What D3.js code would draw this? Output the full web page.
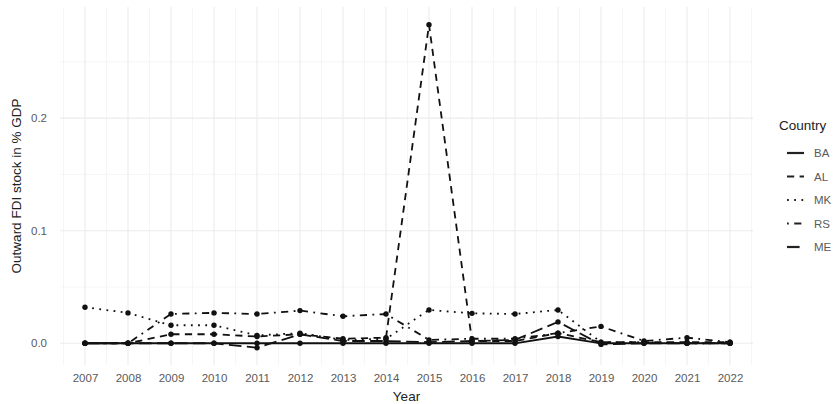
<!DOCTYPE html>
<html>
<head>
<meta charset="utf-8">
<script src="https://cdn.jsdelivr.net/npm/d3@7"></script>
<style>
  body { margin: 0; background: #fff; }
  svg { font-family: "Liberation Sans", Arial, sans-serif; }
</style>
</head>
<body>
<div id="chart"></div>
<script>
// data
const years = d3.range(2007, 2023);
const countries = ["BA", "AL", "MK", "RS", "ME"];
const BA = [0, 0, 0, 0, 0, 0, 0, 0, 0, 0, 0, 0.006, 0, 0, 0, 0];
const AL = [0, 0, 0.008, 0.008, 0.006, 0.008, 0.004, 0.005, 0.283, 0.002, 0.002, 0.009, 0.001, 0.001, 0.001, 0.001];
const MK = [0.032, 0.027, 0.016, 0.016, 0.007, 0.009, 0.003, 0.004, 0.0296, 0.0266, 0.026, 0.0296, 0.001, 0.001, 0, 0];
const RS = [0, 0, 0.026, 0.027, 0.026, 0.029, 0.024, 0.026, 0.003, 0.004, 0.004, 0.009, 0.015, 0.002, 0.005, 0.001];
const ME = [0, 0, 0, 0, -0.004, 0.008, 0.002, 0.002, 0.001, 0.002, 0.003, 0.019, -0.001, 0, 0, 0];
const yTicks = [0, 0.1, 0.2];

const seriesValues = { BA, AL, MK, RS, ME };

const W = 839, H = 404;
const panel = { left: 60, right: 753, top: 7, bottom: 365 };
const lw = 1.8;
const dashes = {
  BA: null,
  AL: `${4 * lw},${3 * lw}`,
  MK: `${1 * lw},${3 * lw}`,
  RS: `${1 * lw},${3 * lw},${4 * lw},${3 * lw}`,
  ME: `${7 * lw},${3 * lw}`
};

const svg = d3.select("#chart").append("svg")
  .attr("width", W).attr("height", H);

// scales
const x = d3.scaleLinear().domain([2007, 2022]).range([85, 730]);
const y = d3.scaleLinear()
  .domain([-0.0193, 0.2987])
  .range([panel.bottom, panel.top]);

const grid = svg.append("g");
// minor grid
d3.range(2006.5, 2023, 1).forEach(v => {
  if (x(v) >= panel.left && x(v) <= panel.right)
    grid.append("line").attr("x1", x(v)).attr("x2", x(v))
      .attr("y1", panel.top).attr("y2", panel.bottom)
      .attr("stroke", "#f3f3f3").attr("stroke-width", 0.8);
});
[0.05, 0.15, 0.25].forEach(v => {
  grid.append("line").attr("x1", panel.left).attr("x2", panel.right)
    .attr("y1", y(v)).attr("y2", y(v))
    .attr("stroke", "#f3f3f3").attr("stroke-width", 0.8);
});
// major grid
years.forEach(v => {
  grid.append("line").attr("x1", x(v)).attr("x2", x(v))
    .attr("y1", panel.top).attr("y2", panel.bottom)
    .attr("stroke", "#ebebeb").attr("stroke-width", 1.1);
});
yTicks.forEach(v => {
  grid.append("line").attr("x1", panel.left).attr("x2", panel.right)
    .attr("y1", y(v)).attr("y2", y(v))
    .attr("stroke", "#ebebeb").attr("stroke-width", 1.1);
});

// axes (no domain lines, no ticks - theme_minimal look)
const xAxis = svg.append("g")
  .attr("transform", `translate(0,${panel.bottom})`)
  .call(d3.axisBottom(x).tickValues(years).tickFormat(d3.format("d")).tickSize(0).tickPadding(9));
const yAxis = svg.append("g")
  .attr("transform", `translate(${panel.left - 11},0)`)
  .call(d3.axisLeft(y).tickValues(yTicks).tickFormat(d3.format(".1f")).tickSize(0).tickPadding(2));
[xAxis, yAxis].forEach(a => {
  a.select(".domain").remove();
  a.selectAll("text").attr("fill", "#5a5a5a").style("font-size", "11.5px");
});

// axis titles
svg.append("text")
  .attr("x", (panel.left + panel.right) / 2).attr("y", 401)
  .attr("text-anchor", "middle").attr("fill", "#222")
  .style("font-size", "13.5px").text("Year");
svg.append("text")
  .attr("transform", `translate(21,${(panel.top + panel.bottom) / 2}) rotate(-90)`)
  .attr("text-anchor", "middle").attr("fill", "#222")
  .style("font-size", "13.5px").text("Outward FDI stock in % GDP");

// lines and points
const line = d3.line().x((d, i) => x(years[i])).y(d => y(d));
countries.forEach(c => {
  svg.append("path")
    .datum(seriesValues[c])
    .attr("fill", "none")
    .attr("stroke", "#111")
    .attr("stroke-width", lw)
    .attr("stroke-dasharray", dashes[c])
    .attr("d", line);
});
countries.forEach(c => {
  svg.append("g").selectAll("circle")
    .data(seriesValues[c])
    .join("circle")
    .attr("cx", (d, i) => x(years[i]))
    .attr("cy", d => y(d))
    .attr("r", 2.7)
    .attr("fill", "#111");
});

// legend
const legend = svg.append("g").attr("transform", "translate(779,0)");
legend.append("text").attr("x", 0).attr("y", 130)
  .attr("fill", "#222").style("font-size", "13.5px").text("Country");
countries.forEach((c, i) => {
  const ly = 153 + i * 23.5;
  legend.append("line")
    .attr("x1", 8).attr("x2", 25).attr("y1", ly).attr("y2", ly)
    .attr("stroke", "#222").attr("stroke-width", 2.2)
    .attr("stroke-dasharray", dashes[c]);
  legend.append("text").attr("x", 35).attr("y", ly + 4)
    .attr("fill", "#5a5a5a").style("font-size", "11.5px").text(c);
});
</script>
</body>
</html>
